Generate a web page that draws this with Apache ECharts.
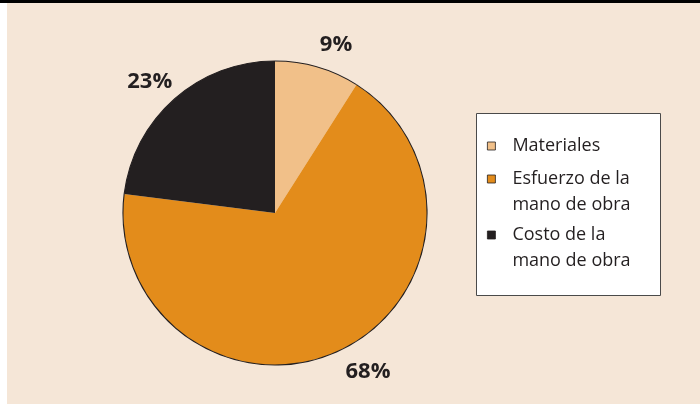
<!DOCTYPE html>
<html>
<head>
<meta charset="utf-8">
<script src="https://cdn.jsdelivr.net/npm/echarts@6/dist/echarts.min.js"></script>
<style>
html,body{margin:0;padding:0;background:#fff;}
#chart{width:700px;height:404px;}
</style>
</head>
<body>
<div id="chart"></div>
<script>
const categories = ['Materiales', 'Esfuerzo de la mano de obra', 'Costo de la mano de obra'];
const values = [9, 68, 23];
const legendLines = [['Materiales'], ['Esfuerzo de la', 'mano de obra'], ['Costo de la', 'mano de obra']];
const colors = ['#f1c089', '#e38c1b', '#231f20'];

const ink = '#231f20';
const legendTops = [137, 144, 200];

const pieData = categories.map((c, i) => ({ name: c, value: values[i], itemStyle: { color: colors[i] } }));

const legends = categories.map((c, i) => ({
  data: [c],
  icon: 'rect',
  left: 487,
  top: legendTops[i],
  orient: 'vertical',
  itemWidth: 8,
  itemHeight: 8,
  padding: 0,
  selectedMode: false,
  itemStyle: { borderColor: ink, borderWidth: 0.8 },
  formatter: function () {
    const lines = legendLines[i].map(l => '{t|' + l + '}');
    return lines.length > 1 ? '{e|}\n' + lines.join('\n') : lines[0];
  },
  textStyle: {
    rich: {
      t: { fontFamily: 'Open Sans', fontSize: 18, color: ink, lineHeight: 26, padding: [0, 0, 0, 12] },
      e: { fontFamily: 'Open Sans', fontSize: 18, lineHeight: 26 }
    }
  }
}));

const chart = echarts.init(document.getElementById('chart'), null, { renderer: 'canvas', width: 700, height: 404 });
chart.setOption({
  backgroundColor: '#ffffff',
  animation: false,
  graphic: [
    { type: 'rect', z: -10, shape: { x: 7, y: 0, width: 693, height: 404 }, style: { fill: '#f5e6d7' } },
    { type: 'rect', z: -9, shape: { x: 0, y: 0, width: 700, height: 3 }, style: { fill: '#000' } },
    { type: 'rect', z: -8, shape: { x: 476.5, y: 113.5, width: 184, height: 182 }, style: { fill: '#ffffff', stroke: '#4a4a4a', lineWidth: 1 } }
  ],
  legend: legends,
  series: [
    {
      type: 'pie',
      center: [275, 213],
      radius: 152,
      startAngle: 90,
      clockwise: true,
      avoidLabelOverlap: false,
      silent: true,
      itemStyle: { borderWidth: 0 },
      label: {
        show: true,
        position: 'outside',
        formatter: '{c}%',
        fontFamily: 'Open Sans',
        fontWeight: 'bold',
        fontSize: 22,
        color: ink,
        distanceToLabelLine: -4
      },
      labelLine: { show: false, length: 23, length2: 0 },
      labelLayout: function (p) {
        if (p.dataIndex === 2) return { dx: 9 };
        return {};
      },
      data: pieData
    },
    {
      type: 'pie',
      center: [275, 213],
      radius: [151.5, 152.6],
      startAngle: 90,
      clockwise: true,
      silent: true,
      label: { show: false },
      labelLine: { show: false },
      itemStyle: { color: ink, borderWidth: 0 },
      legendHoverLink: false,
      data: categories.map((c, i) => ({ name: c + ' ', value: values[i] }))
    }
  ]
});
</script>
</body>
</html>
